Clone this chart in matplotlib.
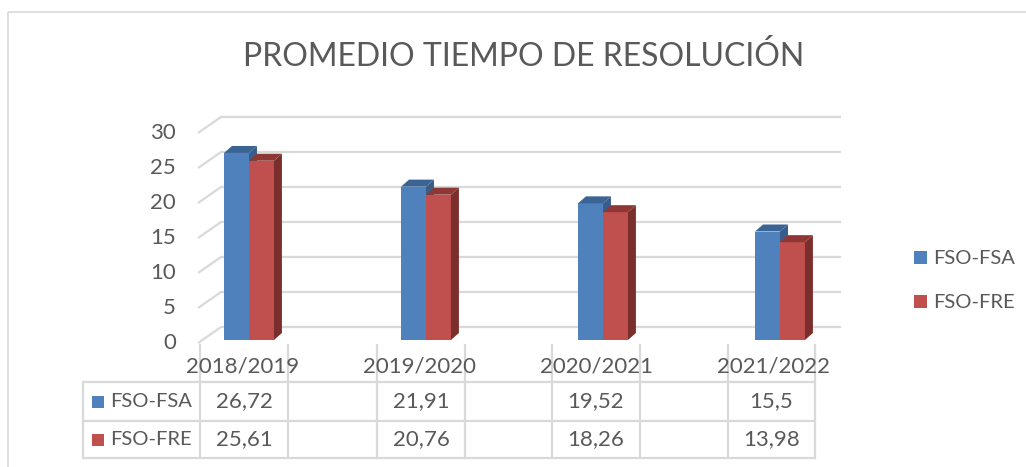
import matplotlib.pyplot as plt
from matplotlib.patches import Polygon, Rectangle
import numpy as np

plt.rcParams['font.family'] = ['Lato', 'DejaVu Sans']

# datos
categorias = ['2018/2019', '2019/2020', '2020/2021', '2021/2022']
series = ['FSO-FSA', 'FSO-FRE']
fso_fsa = [26.72, 21.91, 19.52, 15.5]
fso_fre = [25.61, 20.76, 18.26, 13.98]
valores = [fso_fsa, fso_fre]
yticks = [0, 5, 10, 15, 20, 25, 30]

frente = ['#4F81BD', '#C0504D']
lado = ['#385D8A', '#7B2F2D']
arriba = ['#3A6494', '#8E3734']
texto = '#595959'
grid_c = '#D9D9D9'
fs_num = 16
fs_txt = 14.5

W, H = 1026, 467
fig = plt.figure(figsize=(W / 100, H / 100), dpi=100)

# ejes principales: x en categorias, y en valores (0 -> px 340, 7 px por unidad)
px_x0, px_sx = 249.0, 177.0
px_y0, px_sy = 340.0, 7.0
xlim = (-0.35, 3.40)
ylim = (-1.0, 33.0)
left = (px_x0 + xlim[0] * px_sx) / W
width = (xlim[1] - xlim[0]) * px_sx / W
bottom = (H - (px_y0 - ylim[0] * px_sy)) / H
height = (ylim[1] - ylim[0]) * px_sy / H
ax = fig.add_axes([left, bottom, width, height])
ax.set_xlim(*xlim)
ax.set_ylim(*ylim)
ax.axis('off')

# capa en pixeles para marco, titulo, tabla
ov = fig.add_axes([0, 0, 1, 1], zorder=-1)
ov.set_xlim(0, W)
ov.set_ylim(H, 0)
ov.axis('off')

ov.add_patch(Rectangle((8, 12), W, H, fill=False, ec=grid_c, lw=1.2))
ov.text(524, 57, 'PROMEDIO TIEMPO DE RESOLUCIÓN', ha='center', va='center',
        fontsize=23, color=texto)

# profundidades 3D
x_front = -0.288
x_back = -0.158
x_right = 3.345
dy_front = -0.43
dy_back = 1.86
bw = 0.141
ddx, ddy = 0.045, 1.0

for v in yticks:
    ax.plot([x_front, x_back, x_right], [v + dy_front, v + dy_back, v + dy_back],
            color=grid_c, lw=1.6, zorder=1, solid_capstyle='butt', clip_on=False)
    ax.text(x_front - 0.124, v + dy_front, str(v), ha='right', va='center',
            fontsize=fs_num, color=texto)

xs = np.arange(len(categorias))
for s in range(len(series)):
    for i, v in enumerate(valores[s]):
        x0 = xs[i] + (s - 1) * bw
        x1 = x0 + bw
        ax.bar(x0, v, bw, align='edge', color=frente[s], zorder=3 + s, lw=0)
        ax.add_patch(Polygon([(x1, 0), (x1 + ddx, ddy), (x1 + ddx, v + ddy), (x1, v)],
                             closed=True, fc=lado[s], lw=0, zorder=3 + s))
        ax.add_patch(Polygon([(x0, v), (x0 + ddx, v + ddy), (x1 + ddx, v + ddy), (x1, v)],
                             closed=True, fc=arriba[s], lw=0, zorder=3 + s))

for i, c in enumerate(categorias):
    ax.text(xs[i] - 0.034, -3.85, c, ha='center', va='center', fontsize=fs_num,
            color=texto, clip_on=False)

# leyenda
for s, nombre in enumerate(series):
    yy = 258 + s * 44
    ov.add_patch(Rectangle((914, yy - 7), 13, 13, fc=frente[s], lw=0))
    ov.text(933, yy, nombre, ha='left', va='center', fontsize=fs_txt, color=texto)

# tabla de datos
vlines = [83, 200, 288, 377, 465, 552, 640, 728, 815]
hlines = [382, 421, 458]
for y in hlines:
    ov.plot([83, 815], [y, y], color=grid_c, lw=1.6)
for j, x in enumerate(vlines):
    ov.plot([x, x], [382 if j == 0 else 345, 458], color=grid_c, lw=1.6)

for s, nombre in enumerate(series):
    yc = (hlines[s] + hlines[s + 1]) / 2
    ov.add_patch(Rectangle((92, yc - 6), 12, 12, fc=frente[s], lw=0))
    ov.text(110, yc, nombre, ha='left', va='center', fontsize=fs_txt, color=texto)
    for i, v in enumerate(valores[s]):
        xc = (vlines[1 + 2 * i] + vlines[2 + 2 * i]) / 2
        ov.text(xc, yc, ('%g' % v).replace('.', ','), ha='center', va='center',
                fontsize=fs_num, color=texto)

fig.savefig('out.png', dpi=100)
